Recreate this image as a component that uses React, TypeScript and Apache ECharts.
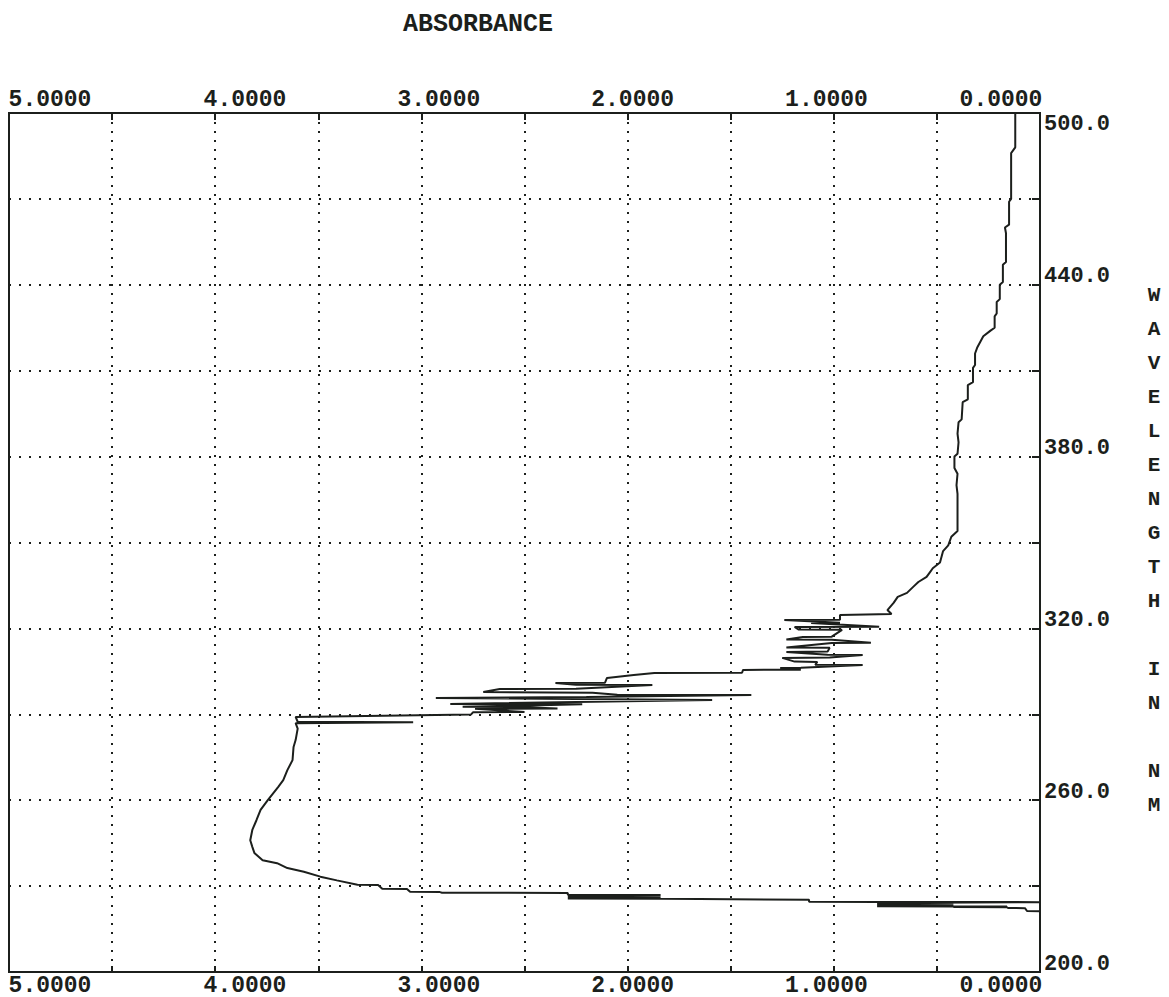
import React, { useEffect, useRef } from "react";
import * as echarts from "echarts";

// ---------- data ----------
const absorbanceRange = [0, 5];
const wavelengthRange = [200, 500];
const absorbanceStep = 0.5;
const wavelengthStep = 30;

// tick labels
const xLabelsInner = [1, 2, 3, 4];
const xLabelsOuter = [0, 5];
const yLabels = [200, 260, 320, 380, 440];
const yLabelTop = [500];

// [absorbance, wavelength nm] in scan order (500 nm -> 221 nm)
const upperCurve: number[][] = [
  [0.12, 500], [0.12, 488], [0.14, 486], [0.14, 470], [0.15, 469], [0.15, 461],
  [0.17, 460], [0.165, 458], [0.165, 448], [0.18, 447], [0.18, 441], [0.195, 440],
  [0.195, 435], [0.21, 434], [0.21, 430], [0.22, 429], [0.22, 425], [0.24, 424],
  [0.275, 422], [0.29, 420], [0.305, 418], [0.315, 416], [0.315, 412], [0.325, 411],
  [0.325, 406], [0.35, 405], [0.35, 400], [0.375, 399], [0.38, 393], [0.395, 392],
  [0.4, 388], [0.395, 385], [0.4, 381], [0.415, 380], [0.415, 376], [0.4, 374],
  [0.405, 370], [0.4, 367], [0.4, 354], [0.43, 352], [0.445, 349], [0.47, 347],
  [0.485, 343], [0.52, 341], [0.535, 339.5], [0.55, 338], [0.59, 336.2], [0.615, 334.5],
  [0.645, 332.4], [0.69, 331], [0.71, 328.9], [0.74, 326.4], [0.72, 325.0],
];

const noisyBand1: number[][] = [
  [0.97, 324.7], [0.97, 323.0], [1.24, 322.9], [0.97, 322.0], [1.11, 321.9], [0.78, 320.6],
  [1.19, 320.5], [1.17, 319.6], [0.96, 319.5], [1.01, 317.1], [1.15, 317.0], [1.23, 316.1],
  [1.01, 316.0], [0.82, 315.0], [1.01, 314.9], [1.23, 313.3], [1.02, 313.2], [1.03, 311.9],
  [1.23, 311.8], [1.03, 310.8], [0.86, 310.7], [1.02, 309.8], [1.25, 309.7], [1.19, 308.4],
  [1.08, 308.3], [1.09, 307.3], [0.86, 307.2], [1.16, 306.3], [1.26, 306.2], [1.16, 305.6],
];

const noisyBand2: number[][] = [
  [1.44, 305.5], [1.445, 304.5], [1.87, 304.4], [1.97, 303.7], [2.1, 302.7], [2.11, 301.0],
  [2.35, 300.9], [2.25, 300.3], [1.88, 300.2], [2.25, 298.9], [2.62, 298.8], [2.7, 297.8],
  [2.17, 297.5], [2.05, 296.8], [1.4, 296.7], [2.2, 296.0], [2.93, 295.7], [1.59, 295.0],
  [2.86, 293.6], [2.22, 293.5], [2.8, 292.6], [2.49, 292.5], [2.34, 292.0], [2.74, 291.9],
  [2.5, 290.8], [2.75, 290.7], [2.76, 289.9], [3.61, 289.1], [3.6, 287.4], [3.04, 287.2],
  [3.61, 286.9],
];

const peakCurve: number[][] = [
  [3.6, 285], [3.61, 281], [3.62, 278.6], [3.625, 274], [3.65, 270.5], [3.67, 267],
  [3.695, 264.6], [3.745, 260], [3.78, 256.6], [3.8, 253], [3.82, 249.6], [3.83, 246],
  [3.82, 243.7], [3.81, 241.6], [3.77, 239], [3.7, 238], [3.65, 236.3], [3.57, 235],
  [3.49, 233.3], [3.41, 232], [3.31, 230.5], [3.21, 230.4], [3.19, 229.1], [3.07, 229.0],
  [3.055, 228.0], [2.91, 227.9], [2.9, 227.7], [2.29, 227.6],
];

const noisyBand3: number[][] = [
  [2.29, 227.0], [1.84, 226.9], [2.29, 226.6], [1.84, 226.4], [2.29, 226.1], [1.84, 225.9],
  [2.29, 225.7], [1.84, 225.6], [1.65, 225.5], [1.12, 225.2], [1.12, 224.5], [0.79, 224.45],
  [0.0, 224.4], [0.79, 224.1], [0.42, 224.0], [0.79, 223.8], [0.42, 223.6], [0.79, 223.4],
  [0.42, 223.2], [0.79, 223.0], [0.42, 222.9], [0.16, 222.85], [0.42, 222.7], [0.16, 222.6],
  [0.155, 222.35], [0.073, 222.3], [0.063, 221.3], [0.0, 221.25],
];

const spectrum = [...upperCurve, ...noisyBand1, ...noisyBand2, ...peakCurve, ...noisyBand3];

// ---------- style ----------
const INK = "#1c1f1c";
const FONT = "Liberation Mono";
const GRID = { left: 9, top: 113, width: 1031, height: 859 };

const hiddenParts = {
  axisLine: { show: false },
  axisTick: { show: false },
  splitLine: { show: false },
};

const labelStyle = (size: number) => ({
  color: INK,
  fontFamily: FONT,
  fontWeight: "bold" as const,
  fontSize: size,
});

export default function App() {
  const ref = useRef<HTMLDivElement>(null);

  useEffect(() => {
    if (!ref.current) return;
    const chart = echarts.init(ref.current, null, { renderer: "svg" });

    const fmtX = (v: number) => Math.abs(v).toFixed(4);
    const fmtY = (v: number) => v.toFixed(1);

    const grids = [0, 1, 2].map((i) => ({
      ...GRID,
      containLabel: false,
      outerBoundsMode: "none",
      show: i === 0,
      borderColor: INK,
      borderWidth: 2,
      backgroundColor: "transparent",
    }));

    const option: any = {
      animation: false,
      backgroundColor: "#ffffff",
      title: {
        text: "ABSORBANCE",
        left: 403,
        top: 12,
        padding: 0,
        textStyle: { ...labelStyle(25) },
      },
      graphic: [
        {
          type: "text",
          x: 1154,
          y: 278,
          style: {
            text: "W\nA\nV\nE\nL\nE\nN\nG\nT\nH\n\nI\nN\n\nN\nM",
            align: "center",
            textAlign: "center",
            verticalAlign: "top",
            textVerticalAlign: "top",
            lineHeight: 34,
            fill: INK,
            fontFamily: FONT,
            fontWeight: "bold",
            fontSize: 21,
          },
        },
      ],
      grid: grids,
      xAxis: [
        {
          gridIndex: 0,
          type: "value",
          position: "bottom",
          min: absorbanceRange[0],
          max: absorbanceRange[1],
          interval: absorbanceStep,
          inverse: true,
          axisLine: { show: false },
          axisTick: { show: true, inside: true, length: 6, lineStyle: { color: INK, width: 2 } },
          axisLabel: { show: false },
          splitLine: { show: true, lineStyle: { color: INK, width: 2, type: [2, 7] } },
        },
        {
          gridIndex: 0,
          type: "value",
          position: "top",
          min: absorbanceRange[0],
          max: absorbanceRange[1],
          interval: absorbanceStep,
          inverse: true,
          axisLine: { show: false },
          axisTick: { show: true, inside: true, length: 7, lineStyle: { color: INK, width: 2 } },
          axisLabel: { show: false },
          splitLine: { show: false },
        },
        {
          gridIndex: 1,
          type: "value",
          position: "top",
          min: -0.1015,
          max: 5.2176,
          inverse: true,
          ...hiddenParts,
          axisLabel: { ...labelStyle(23), customValues: xLabelsInner, formatter: fmtX, margin: 2 },
        },
        {
          gridIndex: 1,
          type: "value",
          position: "bottom",
          min: -0.1015,
          max: 5.2176,
          inverse: true,
          ...hiddenParts,
          axisLabel: { ...labelStyle(23), customValues: xLabelsInner, formatter: fmtX, margin: 2 },
        },
        {
          gridIndex: 2,
          type: "value",
          position: "top",
          min: -0.205,
          max: 5.2156,
          inverse: true,
          ...hiddenParts,
          axisLabel: { ...labelStyle(23), customValues: xLabelsOuter, formatter: fmtX, margin: 2 },
        },
        {
          gridIndex: 2,
          type: "value",
          position: "bottom",
          min: -0.205,
          max: 5.2156,
          inverse: true,
          ...hiddenParts,
          axisLabel: { ...labelStyle(23), customValues: xLabelsOuter, formatter: fmtX, margin: 2 },
        },
      ],
      yAxis: [
        {
          gridIndex: 0,
          type: "value",
          position: "right",
          min: wavelengthRange[0],
          max: wavelengthRange[1],
          interval: wavelengthStep,
          axisLine: { show: false },
          axisTick: { show: true, inside: true, length: 8, lineStyle: { color: INK, width: 2 } },
          axisLabel: { show: false },
          splitLine: { show: true, lineStyle: { color: INK, width: 2, type: [2, 8] } },
        },
        {
          gridIndex: 1,
          type: "value",
          position: "right",
          min: 197.21,
          max: 497.21,
          ...hiddenParts,
          axisLabel: { ...labelStyle(22), customValues: yLabels, formatter: fmtY, margin: 4 },
        },
        {
          gridIndex: 2,
          type: "value",
          position: "right",
          min: 204.19,
          max: 504.19,
          ...hiddenParts,
          axisLabel: { ...labelStyle(22), customValues: yLabelTop, formatter: fmtY, margin: 4 },
        },
      ],
      series: [
        {
          name: "Absorbance",
          type: "line",
          xAxisIndex: 0,
          yAxisIndex: 0,
          data: spectrum,
          showSymbol: false,
          symbol: "none",
          clip: true,
          lineStyle: { color: INK, width: 2 },
        },
      ],
    };

    chart.setOption(option);
    return () => chart.dispose();
  }, []);

  return (
    <div
      ref={ref}
      style={{ position: "fixed", left: 0, top: 0, width: 1169, height: 997, background: "#fff" }}
    />
  );
}
